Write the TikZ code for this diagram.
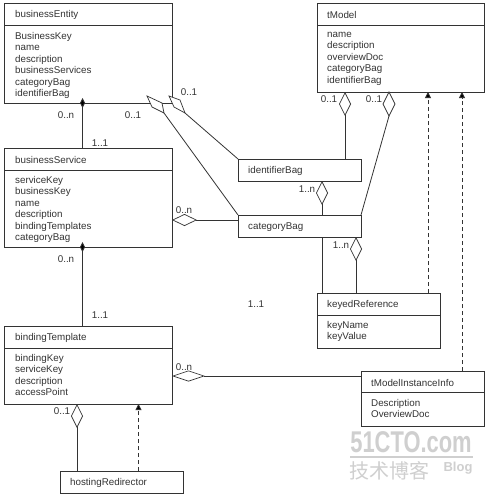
\documentclass[tikz,border=0pt]{standalone}
\usepackage{graphicx}
\usepackage{fontspec}
\setmainfont{Liberation Sans}
\newfontfamily\cjkwm{Noto Sans CJK SC}
\usetikzlibrary{arrows.meta}
\definecolor{ink}{HTML}{333333}
\definecolor{wm}{HTML}{CFCFCF}
\tikzset{
  x=1pt,y=-1pt,
  umlbox/.style={draw=ink,line width=0.9pt,fill=white,inner sep=0pt,outer sep=0pt,anchor=north west},
  divider/.style={draw=ink,line width=0.8pt},
  txt/.style={inner sep=0pt,text=ink,anchor=west,font=\fontsize{9.8}{11.5}\selectfont,align=left},
  attrs/.style={inner sep=0pt,text=ink,anchor=north west,font=\fontsize{9.8}{11.5}\selectfont,align=left},
  mult/.style={inner sep=0pt,text=ink,font=\fontsize{9.8}{11.5}\selectfont},
  link/.style={draw=ink,line width=0.8pt},
  aggr/.style={link,-{Diamond[open,fill=white,length=24pt,width=12pt,line width=0.7pt]}},
  aggrh/.style={link,-{Diamond[open,fill=white,length=25pt,width=12pt,line width=0.7pt]}},
  aggrw/.style={link,-{Diamond[open,fill=white,length=33pt,width=11pt,line width=0.7pt]}},
  comp/.style={link,{Diamond[fill=black,length=10pt,width=5pt]}-},
  dep/.style={link,dash pattern=on 4pt off 3pt,-{Triangle[fill=black,length=6pt,width=6pt]}},
  quad/.style={draw=ink,line width=0.7pt,fill=white,line join=miter},
}
\begin{document}
\begin{tikzpicture}
\useasboundingbox[fill=white] (0,0) rectangle (487,495);

% watermark
\node[inner sep=0pt,text=wm,font=\fontsize{30}{30}\selectfont\bfseries,anchor=center] (wmA) at (411,442) {\scalebox{0.73}[1]{51CTO.com}};
\coordinate (wmL) at (350,457);
\coordinate (wmR) at (473,457);
\draw[wm,line width=1.5pt] (wmL) -- (wmR);
\node[inner sep=0pt,text=wm,font=\fontsize{20}{20}\cjkwm,anchor=center] (wmB) at (389,471) {技术博客};
\node[inner sep=0pt,text=wm,font=\fontsize{13}{13}\selectfont\bfseries,anchor=center] (wmC) at (458,468) {Blog};

% boxes
\node[umlbox,minimum width=168pt,minimum height=100pt] (be) at (4,3) {};
\node[umlbox,minimum width=168pt,minimum height=99pt] (bs) at (4,148) {};
\node[umlbox,minimum width=168pt,minimum height=78pt] (bt) at (4,326) {};
\node[umlbox,minimum width=123pt,minimum height=22pt] (hr) at (60,471) {};
\node[umlbox,minimum width=167pt,minimum height=89pt] (tm) at (317,3) {};
\node[umlbox,minimum width=123pt,minimum height=55pt] (kr) at (317,293) {};
\node[umlbox,minimum width=123pt,minimum height=55pt] (ti) at (361,371) {};

% dividers
\draw[divider] ([yshift=-22pt]be.north west) -- ([yshift=-22pt]be.north east);
\draw[divider] ([yshift=-22pt]bs.north west) -- ([yshift=-22pt]bs.north east);
\draw[divider] ([yshift=-22pt]bt.north west) -- ([yshift=-22pt]bt.north east);
\draw[divider] ([yshift=-22pt]tm.north west) -- ([yshift=-22pt]tm.north east);
\draw[divider] ([yshift=-22pt]kr.north west) -- ([yshift=-22pt]kr.north east);
\draw[divider] ([yshift=-21pt]ti.north west) -- ([yshift=-21pt]ti.north east);

% connectors
\draw[comp] ([xshift=78.5pt,yshift=5pt]be.south west) -- ([xshift=78.5pt]bs.north west);
\draw[comp] ([xshift=78.5pt,yshift=5pt]bs.south west) -- ([xshift=78.5pt]bt.north west);
\coordinate (qa) at (164,113);
\coordinate (qb) at (185,113);
\coordinate (qc) at (389,116);
\coordinate (ib) at (238,159);
\coordinate (cb) at (238,215);
\draw[link] (cb) -- (qa);
\draw[link] (ib) -- (qb);
\draw[quad] (147,96) -- (162,103) -- (qa) -- (152,107) -- cycle;
\draw[quad] (169,96) -- (180,100) -- (qb) -- (174,107) -- cycle;

% the identifierBag link passes behind categoryBag
\draw[aggr] ([xshift=5pt]kr.north west) -- (322,181);

% small boxes
\node[umlbox,minimum width=123pt,minimum height=22pt] (ibag) at (238,159) {};
\node[umlbox,minimum width=123pt,minimum height=22pt] (cbag) at (238,215) {};

\draw[aggr] ([xshift=39pt]kr.north west) -- ([xshift=118pt]cbag.south west);
\draw[aggr] ([xshift=107pt]ibag.north west) -- ([xshift=28pt]tm.south west);
\draw[link] (cbag.north east) -- (qc);
\draw[quad] ([xshift=72pt]tm.south west) -- (395,104) -- (qc) -- (383,104) -- cycle;
\draw[aggrh] ([yshift=-5pt]cbag.north west) -- ([yshift=-72pt]bs.north east);
\draw[aggrw] ([yshift=-5pt]ti.north west) -- ([yshift=-50pt]bt.north east);
\draw[aggr] ([xshift=17pt]hr.north west) -- ([xshift=73pt]bt.south west);
\draw[dep] ([xshift=78.5pt]hr.north west) -- ([xshift=134.5pt]bt.south west);
\draw[dep] ([xshift=111pt]kr.north west) -- ([xshift=111pt]tm.south west);
\draw[dep] ([xshift=101pt]ti.north west) -- ([xshift=145pt]tm.south west);

% box texts
\node[txt] (t1) at (15,15) {businessEntity};
\node[attrs] (a1) at (15,32) {BusinessKey\\name\\description\\businessServices\\categoryBag\\identifierBag};
\node[txt] (t2) at (15,160) {businessService};
\node[attrs] (a2) at (15,176) {serviceKey\\businessKey\\name\\description\\bindingTemplates\\categoryBag};
\node[txt] (t3) at (15,338) {bindingTemplate};
\node[attrs] (a3) at (15,354) {bindingKey\\serviceKey\\description\\accessPoint};
\node[txt] (t4) at (70,482.5) {hostingRedirector};
\node[txt] (t5) at (327,15) {tModel};
\node[attrs] (a5) at (327,32) {name\\description\\overviewDoc\\categoryBag\\identifierBag};
\node[txt] (t6) at (248,171) {identifierBag};
\node[txt] (t7) at (248,227) {categoryBag};
\node[txt] (t8) at (327,305) {keyedReference};
\node[attrs] (a8) at (327,321) {keyName\\keyValue};
\node[txt] (t9) at (371,383) {tModelInstanceInfo};
\node[attrs] (a9) at (371,399) {Description\\OverviewDoc};

% multiplicities
\node[mult] (m1) at (66,115) {0..n};
\node[mult] (m2) at (133,115) {0..1};
\node[mult] (m3) at (100,143) {1..1};
\node[mult] (m4) at (189,92) {0..1};
\node[mult] (m5) at (184,210) {0..n};
\node[mult] (m6) at (66,259) {0..n};
\node[mult] (m7) at (100,315) {1..1};
\node[mult] (m8) at (184,367) {0..n};
\node[mult] (m9) at (62,411) {0..1};
\node[mult] (m10) at (329,99) {0..1};
\node[mult] (m11) at (374,99) {0..1};
\node[mult] (m12) at (307,189) {1..n};
\node[mult] (m13) at (341,245) {1..n};
\node[mult] (m14) at (256,304) {1..1};
\end{tikzpicture}
\end{document}
